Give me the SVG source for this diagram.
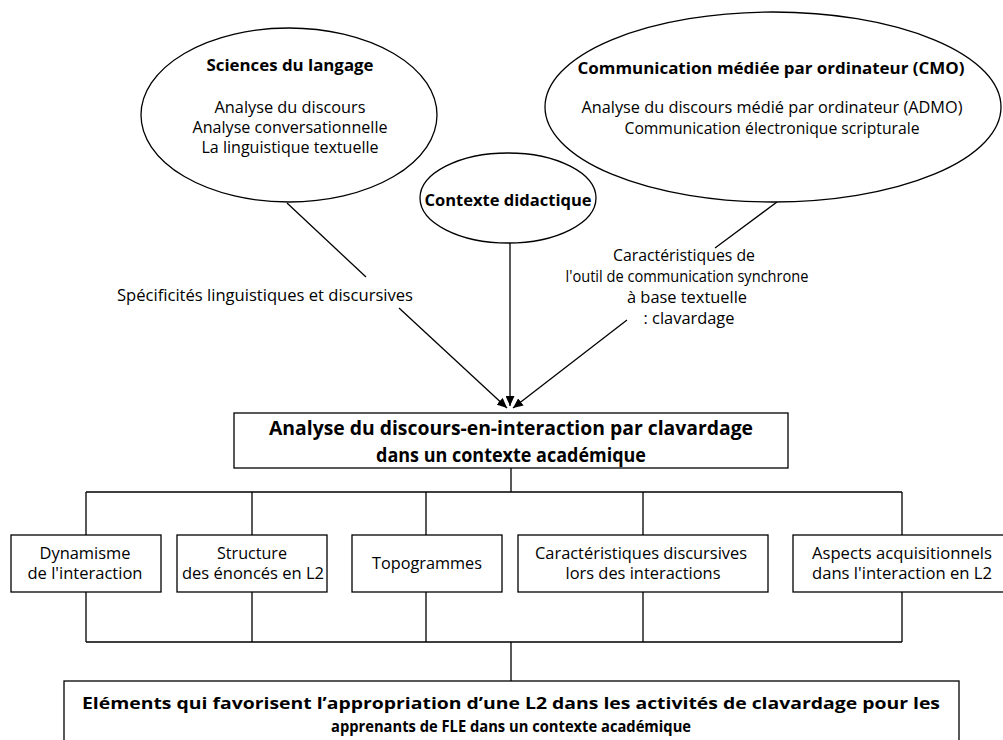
<svg xmlns="http://www.w3.org/2000/svg" width="1003" height="740" viewBox="0 0 1003 740">
<style>
.shape{fill:#fff;stroke:#000;stroke-width:1.3}
.line{fill:none;stroke:#000;stroke-width:1.3}
text{font-family:"Open Sans","Noto Sans","Liberation Sans",sans-serif;fill:#000;text-anchor:middle;dominant-baseline:central}
.r{font-size:16px}
.b{font-size:16px;font-weight:bold}
.bb{font-size:19px;font-weight:bold}
.bc{font-size:16.5px;font-weight:bold}
</style>
<defs>
<marker id="arr" markerUnits="userSpaceOnUse" markerWidth="11" markerHeight="9" refX="10" refY="4.5" orient="auto">
<path d="M0,0 L10,4.5 L0,9 z" fill="#000"/>
</marker>
</defs>
<rect width="1003" height="740" fill="#fff"/>

<g id="connectors">
<path class="line" d="M287,203 L366,277"/>
<path class="line" d="M399,308 L507,408" marker-end="url(#arr)"/>
<path class="line" d="M510,243 L510,406" marker-end="url(#arr)"/>
<path class="line" d="M777,202 L715,248"/>
<path class="line" d="M627,320 L513,408" marker-end="url(#arr)"/>
<path class="line" d="M511,468 L511,492 M86,492 L902,492 M86,492 L86,535 M252,492 L252,535 M426,492 L426,535 M643,492 L643,535 M902,492 L902,535"/>
<path class="line" d="M86,592 L86,642 M252,592 L252,642 M426,592 L426,642 M643,592 L643,642 M902,592 L902,642 M86,642 L902,642 M511,642 L511,681"/>
</g>

<g id="sciences">
<ellipse class="shape" cx="289" cy="115" rx="148" ry="87"/>
<text class="b" x="290" y="65" textLength="167" lengthAdjust="spacingAndGlyphs">Sciences du langage</text>
<text class="r" x="290" y="107" textLength="151" lengthAdjust="spacingAndGlyphs">Analyse du discours</text>
<text class="r" x="290" y="127" textLength="195" lengthAdjust="spacingAndGlyphs">Analyse conversationnelle</text>
<text class="r" x="290" y="147" textLength="177" lengthAdjust="spacingAndGlyphs">La linguistique textuelle</text>
</g>

<g id="cmo">
<ellipse class="shape" cx="773" cy="107" rx="228" ry="95"/>
<text class="b" x="771" y="68" textLength="387" lengthAdjust="spacingAndGlyphs">Communication médiée par ordinateur (CMO)</text>
<text class="r" x="772" y="107" textLength="381" lengthAdjust="spacingAndGlyphs">Analyse du discours médié par ordinateur (ADMO)</text>
<text class="r" x="772" y="128" textLength="295" lengthAdjust="spacingAndGlyphs">Communication électronique scripturale</text>
</g>

<g id="contexte">
<ellipse class="shape" cx="508" cy="198" rx="88" ry="45"/>
<text class="b" x="508" y="200" textLength="167" lengthAdjust="spacingAndGlyphs">Contexte didactique</text>
</g>

<g id="label-specificites">
<text class="r" x="265" y="295" textLength="296" lengthAdjust="spacingAndGlyphs">Spécificités linguistiques et discursives</text>
</g>

<g id="label-caracteristiques">
<text class="r" x="684" y="255" textLength="142" lengthAdjust="spacingAndGlyphs">Caractéristiques de</text>
<text class="r" x="687" y="276" textLength="243" lengthAdjust="spacingAndGlyphs">l'outil de communication synchrone</text>
<text class="r" x="687" y="297" textLength="120" lengthAdjust="spacingAndGlyphs">à base textuelle</text>
<text class="r" x="689" y="318" textLength="91" lengthAdjust="spacingAndGlyphs">: clavardage</text>
</g>

<g id="analyse">
<rect class="shape" x="234" y="413" width="554" height="55"/>
<text class="bb" x="511" y="428" textLength="484" lengthAdjust="spacingAndGlyphs">Analyse du discours-en-interaction par clavardage</text>
<text class="bb" x="511" y="455" textLength="270" lengthAdjust="spacingAndGlyphs">dans un contexte académique</text>
</g>

<g id="dynamisme">
<rect class="shape" x="11" y="535" width="150" height="57"/>
<text class="r" x="85" y="553" textLength="91" lengthAdjust="spacingAndGlyphs">Dynamisme</text>
<text class="r" x="85" y="573" textLength="115" lengthAdjust="spacingAndGlyphs">de l'interaction</text>
</g>

<g id="structure">
<rect class="shape" x="177" y="535" width="150" height="57"/>
<text class="r" x="252" y="553" textLength="70" lengthAdjust="spacingAndGlyphs">Structure</text>
<text class="r" x="253" y="573" textLength="142" lengthAdjust="spacingAndGlyphs">des énoncés en L2</text>
</g>

<g id="topogrammes">
<rect class="shape" x="352" y="535" width="150" height="57"/>
<text class="r" x="427" y="563" textLength="110" lengthAdjust="spacingAndGlyphs">Topogrammes</text>
</g>

<g id="discursives">
<rect class="shape" x="518" y="535" width="250" height="57"/>
<text class="r" x="641" y="553" textLength="212" lengthAdjust="spacingAndGlyphs">Caractéristiques discursives</text>
<text class="r" x="643" y="573" textLength="155" lengthAdjust="spacingAndGlyphs">lors des interactions</text>
</g>

<g id="acquisitionnels">
<rect class="shape" x="793" y="535" width="218" height="57"/>
<text class="r" x="902" y="553" textLength="180" lengthAdjust="spacingAndGlyphs">Aspects acquisitionnels</text>
<text class="r" x="902" y="573" textLength="180" lengthAdjust="spacingAndGlyphs">dans l'interaction en L2</text>
</g>

<g id="elements">
<rect class="shape" x="64" y="681" width="895" height="70"/>
<text class="bc" x="511" y="702" textLength="858" lengthAdjust="spacingAndGlyphs">Eléments qui favorisent l’appropriation d’une L2 dans les activités de clavardage pour les</text>
<text class="bc" x="511" y="725" textLength="360" lengthAdjust="spacingAndGlyphs">apprenants de FLE dans un contexte académique</text>
</g>
</svg>
